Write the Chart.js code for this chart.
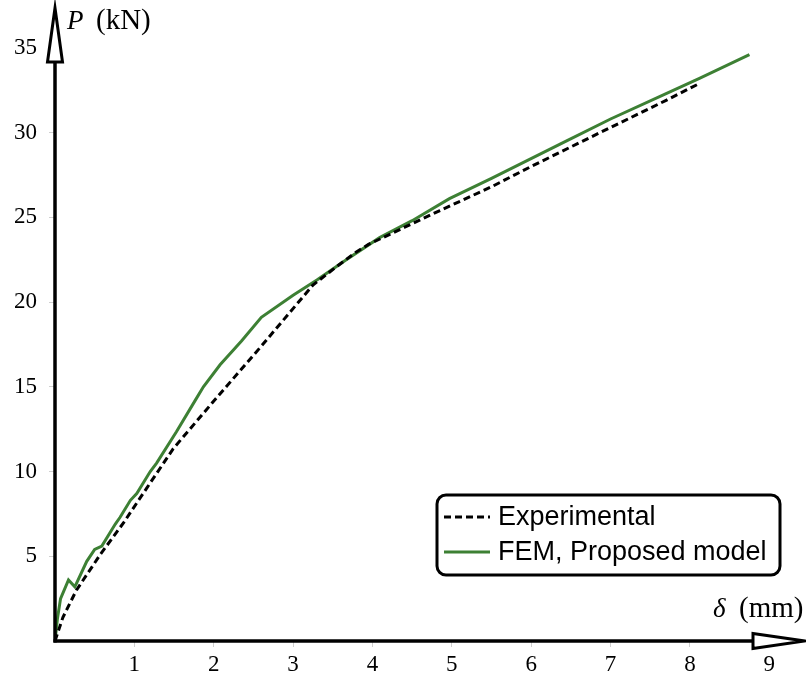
<!DOCTYPE html>
<html>
<head>
<meta charset="utf-8">
<script src="https://cdn.jsdelivr.net/npm/chart.js@4"></script>
<style>
  html, body { margin: 0; padding: 0; background: #fff; }
  #wrap { width: 806px; height: 677px; }
</style>
</head>
<body>
<div id="wrap"><canvas id="load-chart"></canvas></div>
<script>
// deflection (mm) / load (kN)
const expDelta = [0, 0.1, 0.27, 0.57, 0.86, 1.16, 1.49, 1.99, 2.6, 3.25, 3.55, 3.78, 3.95, 4.4, 4.85, 5.5, 6.0, 6.65, 7.0, 7.7, 8.12];
const expLoad  = [0, 1.4, 3.0, 5.1, 6.95, 9.05, 11.35, 14.1, 17.4, 21.0, 22.1, 22.9, 23.4, 24.4, 25.4, 26.8, 28.0, 29.5, 30.3, 31.9, 32.9];

const femDelta = [0, 0.03, 0.07, 0.17, 0.25, 0.4, 0.5, 0.59, 0.76, 0.82, 0.95, 1.03, 1.2, 1.28, 1.53, 1.78, 1.87, 2.08, 2.35, 2.6, 3.0, 3.3, 3.67, 4.09, 4.5, 4.97, 5.5, 6.44, 7.0, 7.7, 8.12, 8.75];
const femLoad  = [0, 1.3, 2.5, 3.6, 3.2, 4.7, 5.4, 5.6, 6.9, 7.3, 8.3, 8.7, 10.0, 10.5, 12.35, 14.3, 15.0, 16.3, 17.7, 19.1, 20.4, 21.3, 22.5, 23.8, 24.8, 26.1, 27.3, 29.5, 30.8, 32.3, 33.2, 34.6];

const xTicks = [1, 2, 3, 4, 5, 6, 7, 8, 9];
const yTicks = [5, 10, 15, 20, 25, 30, 35];

const seriesNames = ["Experimental", "FEM, Proposed model"];

const toPoints = (xs, ys) => xs.map((x, i) => ({ x: x, y: ys[i] }));

const tickFont = { family: "'Liberation Serif', serif", size: 23 };

// axes with open arrow heads, axis titles and the framed legend
const decorations = {
    id: "decorations",
    afterDraw(chart) {
        const ctx = chart.ctx;
        const area = chart.chartArea;
        const ox = area.left, oy = area.bottom;
        ctx.save();
        ctx.strokeStyle = "#000";
        ctx.lineWidth = 3.5;
        ctx.lineJoin = "miter";

        // y axis
        ctx.beginPath();
        ctx.moveTo(ox, oy + 1.5);
        ctx.lineTo(ox, area.top + 54);
        ctx.stroke();
        ctx.beginPath();
        ctx.moveTo(ox, area.top);
        ctx.lineTo(ox + 7.5, area.top + 54);
        ctx.lineTo(ox - 7.5, area.top + 54);
        ctx.closePath();
        ctx.fillStyle = "#fff";
        ctx.fill();
        ctx.lineWidth = 3;
        ctx.stroke();

        // x axis
        ctx.lineWidth = 3.5;
        ctx.beginPath();
        ctx.moveTo(ox - 1.5, oy);
        ctx.lineTo(area.right - 52, oy);
        ctx.stroke();
        ctx.beginPath();
        ctx.moveTo(area.right, oy);
        ctx.lineTo(area.right - 52, oy - 7.5);
        ctx.lineTo(area.right - 52, oy + 7.5);
        ctx.closePath();
        ctx.fillStyle = "#fff";
        ctx.fill();
        ctx.lineWidth = 3;
        ctx.stroke();

        // axis titles
        ctx.fillStyle = "#000";
        ctx.textBaseline = "alphabetic";
        ctx.textAlign = "left";
        ctx.font = "italic 27px 'Liberation Serif', serif";
        ctx.fillText("P", 67, 29);
        ctx.font = "29px 'Liberation Serif', serif";
        ctx.fillText("(kN)", 96, 29);
        ctx.font = "italic 27px 'Liberation Serif', serif";
        ctx.fillText("\u03B4", 713, 617);
        ctx.font = "29px 'Liberation Serif', serif";
        ctx.fillText("(mm)", 739, 617);

        // legend
        const bx = 437, by = 495, bw = 343, bh = 80;
        ctx.lineWidth = 3;
        ctx.strokeStyle = "#000";
        ctx.fillStyle = "#fff";
        ctx.beginPath();
        ctx.roundRect(bx, by, bw, bh, 9);
        ctx.fill();
        ctx.stroke();

        chart.data.datasets.forEach((ds, i) => {
            const ly = by + 22 + i * 35;
            ctx.save();
            ctx.strokeStyle = ds.borderColor;
            ctx.lineWidth = ds.borderWidth;
            ctx.setLineDash(ds.borderDash || []);
            ctx.beginPath();
            ctx.moveTo(bx + 7, ly);
            ctx.lineTo(bx + 53, ly);
            ctx.stroke();
            ctx.restore();
            ctx.fillStyle = "#000";
            ctx.font = "27px 'Liberation Sans', sans-serif";
            ctx.textBaseline = "middle";
            ctx.fillText(ds.label, bx + 61, ly + 1);
        });
        ctx.restore();
    },
};

function initChart() {
    const el = document.getElementById("load-chart");
    new Chart(el, {
        type: "scatter",
        data: {
            datasets: [
                {
                    label: seriesNames[0],
                    data: toPoints(expDelta, expLoad),
                    showLine: true,
                    borderColor: "#000",
                    borderWidth: 3,
                    borderDash: [7, 4],
                    pointRadius: 0,
                    tension: 0,
                },
                {
                    label: seriesNames[1],
                    data: toPoints(femDelta, femLoad),
                    showLine: true,
                    borderColor: "#3d8034",
                    borderWidth: 3,
                    pointRadius: 0,
                    tension: 0,
                },
            ],
        },
        options: {
            responsive: true,
            maintainAspectRatio: false,
            animation: false,
            layout: { padding: { top: 8, right: 1, left: 0, bottom: 0 } },
            plugins: {
                legend: { display: false },
                tooltip: { enabled: false },
            },
            scales: {
                x: {
                    type: "linear",
                    min: 0,
                    max: 9.45,
                    afterBuildTicks: (scale) => { scale.ticks = xTicks.map((v) => ({ value: v })); },
                    afterFit: (scale) => {
                        scale.height = 36;
                        scale.paddingLeft = 0;
                        scale.paddingRight = 0;
                    },
                    border: { display: false },
                    grid: { drawOnChartArea: false, tickLength: 6, color: "#cfcfcf" },
                    ticks: { font: tickFont, color: "#000", padding: 4, maxRotation: 0 },
                },
                y: {
                    type: "linear",
                    min: 0,
                    max: 37.35,
                    afterBuildTicks: (scale) => { scale.ticks = yTicks.map((v) => ({ value: v })); },
                    afterFit: (scale) => {
                        scale.width = 55;
                        scale.paddingTop = 0;
                        scale.paddingBottom = 0;
                    },
                    border: { display: false },
                    grid: { drawOnChartArea: false, tickLength: 6, color: "#cfcfcf" },
                    ticks: { font: tickFont, color: "#000", padding: 12 },
                },
            },
        },
        plugins: [decorations],
    });
}

document.addEventListener("DOMContentLoaded", () => {
    initChart();
});
</script>
</body>
</html>
